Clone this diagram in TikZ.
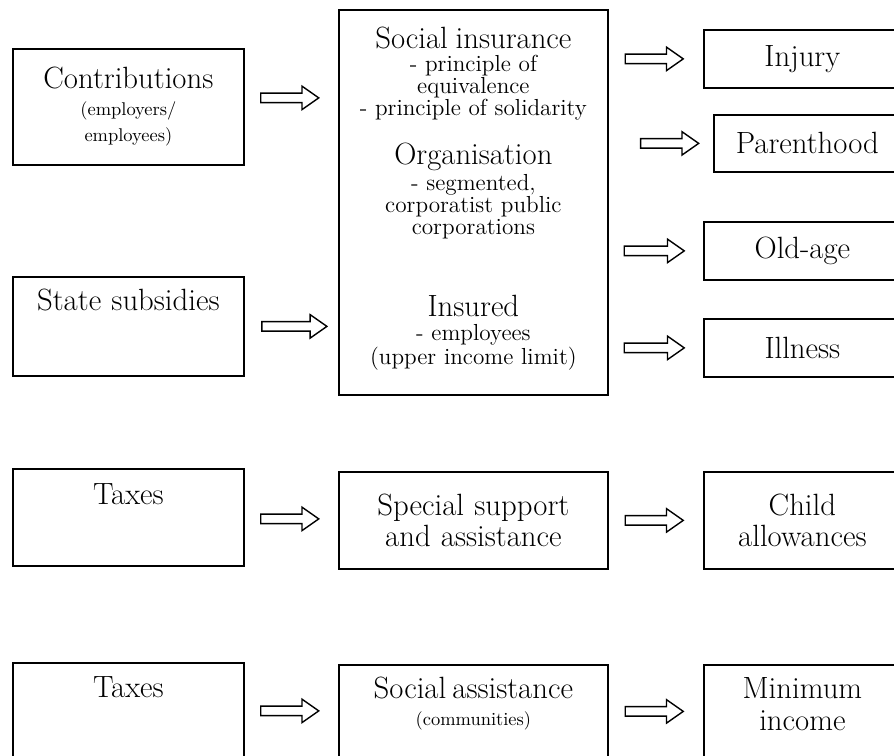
\documentclass[tikz,border=0pt]{standalone}
\usepackage{tikz}
\usetikzlibrary{shapes.arrows}

\newcommand{\headf}{\fontsize{17.5}{18}\selectfont}
\newcommand{\subf}{\fontsize{13.2}{12.5}\selectfont}
\newcommand{\notef}{\fontsize{10.5}{15}\selectfont}

\begin{document}
\begin{tikzpicture}[
    box/.style={draw, line width=1pt, anchor=north west, align=center, inner sep=0pt},
    lbox/.style={box, text width=4.62cm},
    cbox/.style={box, text width=5.38cm},
    rbox/.style={box, text width=3.94cm},
    fat/.style={single arrow, draw, line width=0.8pt, inner xsep=0pt, inner ysep=0.08cm,
        minimum width=0.44cm, minimum height=1.16cm, xshift=-0.1cm,
        single arrow head extend=0.14cm, single arrow tip angle=70}
]
\path[use as bounding box, fill=white] (0,0) rectangle (17.88,-15.10);

% sources
\node [lbox, font=\notef, minimum height=2.32cm] (contrib) at (0.24,-0.96)
    {{\headf Contributions}\\(employers/\\employees)};
\node [lbox, font=\headf, text height=0.68cm, text depth=1.30cm] (subsid) at (0.24,-5.52) {State subsidies};
\node [lbox, font=\headf, text height=0.72cm, text depth=1.22cm] (taxesA) at (0.24,-9.36) {Taxes};
\node [lbox, font=\headf, text height=0.70cm, text depth=1.20cm] (taxesB) at (0.24,-13.24) {Taxes};

% institutions
\node [cbox, font=\subf, text height=0.78cm, text depth=6.92cm] (ins) at (6.76,-0.18)
    {{\headf Social insurance}\\[0.02cm]
     - principle of\\equivalence\\- principle of solidarity\\[0.42cm]
     {\headf Organisation}\\[0.04cm]
     - segmented,\\corporatist public\\corporations\\[1.08cm]
     {\headf Insured}\\[0.04cm]
     - employees\\(upper income limit)};
\node [cbox, font=\headf, minimum height=1.94cm] (special) at (6.76,-9.42) {Special support\\and assistance};
\node [cbox, font=\notef, text height=0.68cm, text depth=1.18cm] (socassist) at (6.76,-13.28)
    {{\headf Social assistance}\\(communities)};

% benefits
\node [rbox, font=\headf, minimum height=1.16cm] (injury) at (14.06,-0.58) {Injury};
\node [box, text width=3.74cm, font=\headf, minimum height=1.14cm] (parent) at (14.26,-2.28) {Parenthood};
\node [rbox, font=\headf, minimum height=1.16cm] (oldage) at (14.06,-4.42) {Old-age};
\node [rbox, font=\headf, minimum height=1.16cm] (illness) at (14.06,-6.36) {Illness};
\node [rbox, font=\headf, minimum height=1.94cm] (child) at (14.06,-9.42) {Child\\allowances};
\node [rbox, font=\headf, text height=0.68cm, text depth=1.18cm] (minimum) at (14.06,-13.28) {Minimum\\income};

% arrows
\path (contrib.east) -- (contrib.east -| ins.west) node [fat, midway, yshift=0.18cm] (arA) {};
\path (subsid.east) -- (subsid.east -| ins.west) node [fat, pos=.55, minimum height=1.30cm] (arB) {};
\path (taxesA.east) -- (special.west) node [fat, midway] (arC) {};
\path (taxesB.east) -- (socassist.west) node [fat, midway] (arD) {};
\path (ins.east |- injury) -- (injury.west) node [fat, midway] (arE) {};
\path (ins.east |- parent) -- (parent.west) node [fat, pos=.6] (arF) {};
\path (ins.east |- oldage) -- (oldage.west) node [fat, midway, minimum height=1.2cm] (arG) {};
\path (ins.east |- illness) -- (illness.west) node [fat, midway, minimum height=1.2cm] (arH) {};
\path (special.east) -- (child.west) node [fat, midway] (arI) {};
\path (socassist.east) -- (minimum.west) node [fat, midway] (arJ) {};
\end{tikzpicture}
\end{document}
